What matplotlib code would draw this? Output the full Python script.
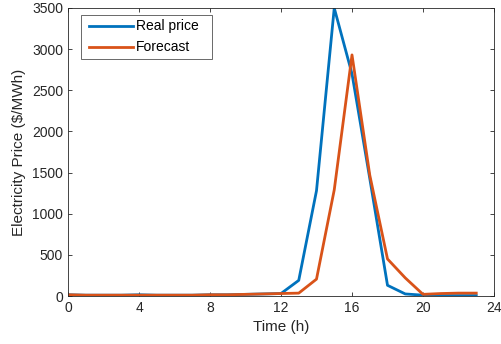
import matplotlib
matplotlib.use("Agg")
import matplotlib.pyplot as plt
from matplotlib.path import Path

hours = list(range(24))
real_price = [15, 10, 10, 10, 15, 10, 10, 10, 15, 15, 20, 25, 30, 190,
              1280, 3500, 2700, 1430, 130, 25, 10, 5, 5, 5]
forecast = [15, 10, 10, 10, 10, 10, 10, 10, 15, 15, 20, 25, 30, 35,
            205, 1290, 2930, 1470, 450, 220, 20, 30, 35, 35]
x_ticks = [0, 4, 8, 12, 16, 20, 24]
y_ticks = [0, 500, 1000, 1500, 2000, 2500, 3000, 3500]

plt.rcParams['font.family'] = ['Liberation Sans', 'DejaVu Sans']

fig = plt.figure(figsize=(5.01, 3.44), dpi=100)
ax = fig.add_axes([68 / 501, 1 - 296 / 344, (494 - 68) / 501, (296 - 8) / 344])

ax.plot(hours, real_price, color='#0072BD', lw=2.0, label='Real price')
ax.plot(hours, forecast, color='#D95319', lw=2.0, label='Forecast')

ax.set_xlim(0, 24)
ax.set_ylim(0, 3500)
ax.set_xticks(x_ticks)
ax.set_yticks(y_ticks)
ax.tick_params(direction='in', top=True, right=True, labelsize=10,
               color='#262626', labelcolor='#262626', length=3, width=0.6)
for s in ax.spines.values():
    s.set_color('#262626')
    s.set_linewidth(0.6)

ax.set_xlabel('Time (h)', fontsize=11, color='#262626')
ax.set_ylabel('Electricity Price ($/MWh)', fontsize=11, color='#262626')

leg = ax.legend(loc='upper left', fontsize=10, frameon=True, fancybox=False,
                handlelength=3.2, handletextpad=0.15, borderpad=0.33,
                labelspacing=0.5, borderaxespad=0.0,
                bbox_to_anchor=(0.0385, 0.976))


def wide_square(x0, y0, width, height, mutation_size):
    # rectangular frame with extra room on the left and right only
    left, right = 3.4, 9.0
    xa, xb = x0 - left, x0 + width + right
    ya, yb = y0, y0 + height
    return Path([(xa, ya), (xb, ya), (xb, yb), (xa, yb), (xa, ya)],
                closed=True)


frame = leg.get_frame()
frame.set_boxstyle(wide_square)
frame.set_edgecolor('#262626')
frame.set_linewidth(0.6)

fig.savefig('out.png', dpi=100)
